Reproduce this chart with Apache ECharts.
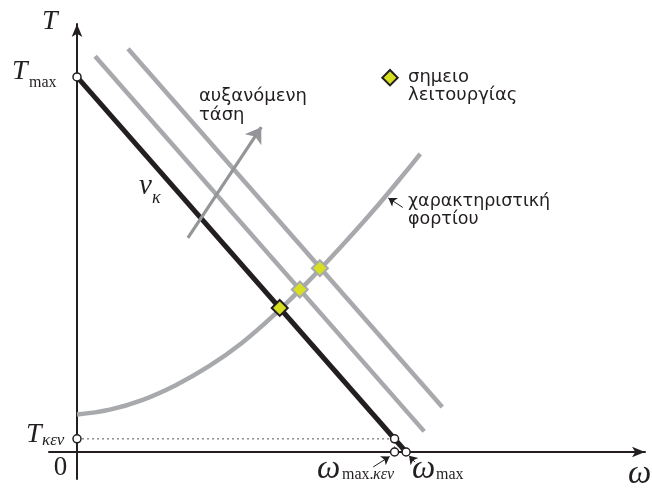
<!DOCTYPE html>
<html>
<head>
<meta charset="utf-8">
<script src="https://cdn.jsdelivr.net/npm/echarts@6/dist/echarts.min.js"></script>
<style>
  html, body { margin: 0; padding: 0; background: #fff; }
  #chart { width: 652px; height: 488px; }
</style>
</head>
<body>
<div id="chart"></div>
<script>
// Speed ω and torque T in normalised units (% of no-load speed / stall torque)
const omegaRange = [-8.51, 172.6];
const torqueRange = [-7.2, 114.1];

// Motor torque-speed characteristic at rated voltage v_κ
const motorRated = [[0, 100], [100, 0]];
// Same characteristic for two higher supply voltages
const motorHigher1 = [[5.5, 105.5], [105.5, 5.5]];
const motorHigher2 = [[15.5, 107.5], [111, 12]];

// Load torque characteristic
const loadOmega  = [0, 10, 20, 30, 40, 50, 60, 70, 80, 90, 100, 104.3];
const loadTorque = [10, 11.3, 13.9, 17.8, 22.8, 29.0, 36.6, 45.2, 54.5, 64.3, 74.8, 79.5];

// Operating points: motor curve meets load curve (rated, higher 1, higher 2)
const operatingPoints = [[61.6, 38.4], [67.7, 43.3], [73.8, 49.0]];

// Characteristic values marked on the axes
const tMax = 100;
const omegaMax = 100;
const tNoLoad = 3.5;
const omegaMaxNoLoad = 96.5;

// Arrow showing the direction of increasing voltage
const voltageArrow = [[33.7, 57.1], [56.0, 86.6]];
// Pointer arrows for the labels
const pointerNoLoad = [[90.0, -4.0], [95.0, -1.2]];
const pointerMax = [[102.7, -2.7], [100.9, -1.0]];
const pointerLoad = [[99.0, 65.2], [94.6, 67.7]];

const INK = '#231f20';
const GREY = '#a7a9ac';
const ARROW_GREY = '#939598';
const MARK = '#d7df23';
const SERIF = '"Liberation Serif", "DejaVu Serif", serif';
const SANS = '"DejaVu Sans", "Noto Sans", sans-serif';

const loadCurve = loadOmega.map((w, i) => [w, loadTorque[i]]);

function txt(text, x, y, font, align) {
  return {
    type: 'text', x: x, y: y, z: 100,
    style: {
      text: text, font: font, fill: INK,
      textAlign: align || 'left', textVerticalAlign: 'middle'
    }
  };
}

function arrowSeries(coords, color, width, size) {
  return {
    type: 'lines', coordinateSystem: 'cartesian2d', silent: true,
    symbol: ['none', 'arrow'], symbolSize: size,
    lineStyle: { color: color, width: width, opacity: 1, curveness: 0 },
    data: [{ coords: coords }],
    z: 5
  };
}

const chart = echarts.init(document.getElementById('chart'), null, { renderer: 'canvas' });

const option = {
  backgroundColor: '#ffffff',
  animation: false,
  grid: { left: 49, right: 7, top: 24, bottom: 9 },
  xAxis: {
    type: 'value', min: omegaRange[0], max: omegaRange[1],
    axisLine: { onZero: true, lineStyle: { color: INK, width: 2 }, symbol: ['none', 'arrow'], symbolSize: [8, 13] },
    axisTick: { show: false }, axisLabel: { show: false }, splitLine: { show: false }
  },
  yAxis: {
    type: 'value', min: torqueRange[0], max: torqueRange[1],
    axisLine: { onZero: true, lineStyle: { color: INK, width: 2 }, symbol: ['none', 'arrow'], symbolSize: [8, 13] },
    axisTick: { show: false }, axisLabel: { show: false }, splitLine: { show: false }
  },
  series: [
    {
      name: 'no-load guides', type: 'line', symbol: 'none', silent: true,
      lineStyle: { color: '#555', width: 1, type: [2, 3] },
      data: [[0, tNoLoad], [omegaMaxNoLoad, tNoLoad], [omegaMaxNoLoad, 0]],
      z: 1
    },
    {
      name: 'load', type: 'line', symbol: 'none', smooth: 0.4, silent: true,
      lineStyle: { color: GREY, width: 4.5 },
      data: loadCurve, z: 2
    },
    {
      name: 'higher 1', type: 'line', symbol: 'none', silent: true,
      lineStyle: { color: GREY, width: 4.5 }, data: motorHigher1, z: 2
    },
    {
      name: 'higher 2', type: 'line', symbol: 'none', silent: true,
      lineStyle: { color: GREY, width: 4.5 }, data: motorHigher2, z: 2
    },
    {
      name: 'rated', type: 'line', symbol: 'none', silent: true,
      lineStyle: { color: INK, width: 5 }, data: motorRated, z: 3
    },
    arrowSeries(voltageArrow, ARROW_GREY, 3.2, [11, 15]),
    arrowSeries(pointerNoLoad, INK, 1, [5, 8]),
    arrowSeries(pointerMax, INK, 1, [5, 8]),
    arrowSeries(pointerLoad, INK, 1, [5, 8]),
    {
      name: 'axis values', type: 'scatter', symbol: 'circle', symbolSize: 8, silent: true,
      itemStyle: { color: '#ffffff', borderColor: INK, borderWidth: 1.5, opacity: 1 },
      data: [[0, tMax], [0, tNoLoad], [omegaMaxNoLoad, tNoLoad], [omegaMaxNoLoad, 0], [omegaMax, 0]],
      z: 6
    },
    {
      name: 'σημειο λειτουργίας', type: 'scatter', symbol: 'diamond', symbolSize: 16, silent: true,
      data: operatingPoints.map((p, i) => ({
        value: p,
        itemStyle: { color: MARK, borderColor: i === 0 ? INK : GREY, borderWidth: 2, opacity: 1 }
      })),
      z: 7
    }
  ],
  graphic: [
    // axis names and characteristic values
    txt('T', 42, 22, 'italic 28px ' + SERIF),
    txt('T', 12, 72, 'italic 28px ' + SERIF),
    txt('max', 29, 83, '16px ' + SERIF),
    txt('T', 26, 435, 'italic 28px ' + SERIF),
    txt('κεν', 42, 441, 'italic 17px ' + SERIF),
    txt('0', 60.5, 468, '27px ' + SERIF, 'center'),
    txt('ω', 317, 469, 'italic 33px ' + SERIF),
    txt('max.', 342, 475, '16px ' + SERIF),
    txt('κεν', 373, 475, 'italic 16px ' + SERIF),
    txt('ω', 412, 469, 'italic 33px ' + SERIF),
    txt('max', 436, 475, '16px ' + SERIF),
    txt('ω', 628, 474, 'italic 33px ' + SERIF),
    txt('v', 139, 186, 'italic 29px ' + SERIF),
    txt('κ', 152, 198, 'italic 18px ' + SERIF),
    // annotations
    txt('αυξανόμενη', 199, 96.7, '18px ' + SANS),
    txt('τάση', 199, 115.7, '18px ' + SANS),
    txt('χαρακτηριστική', 408, 201.3, '17.5px ' + SANS),
    txt('φορτίου', 408, 219.5, '17.5px ' + SANS),
    // legend entry for the operating point marker
    {
      type: 'polygon', z: 100,
      shape: { points: [[390, 70], [397.7, 77.7], [390, 85.4], [382.3, 77.7]] },
      style: { fill: MARK, stroke: INK, lineWidth: 2 }
    },
    txt('σημειο', 408, 77, '18px ' + SANS),
    txt('λειτουργίας', 408, 95.7, '18px ' + SANS)
  ]
};

chart.setOption(option);
</script>
</body>
</html>
